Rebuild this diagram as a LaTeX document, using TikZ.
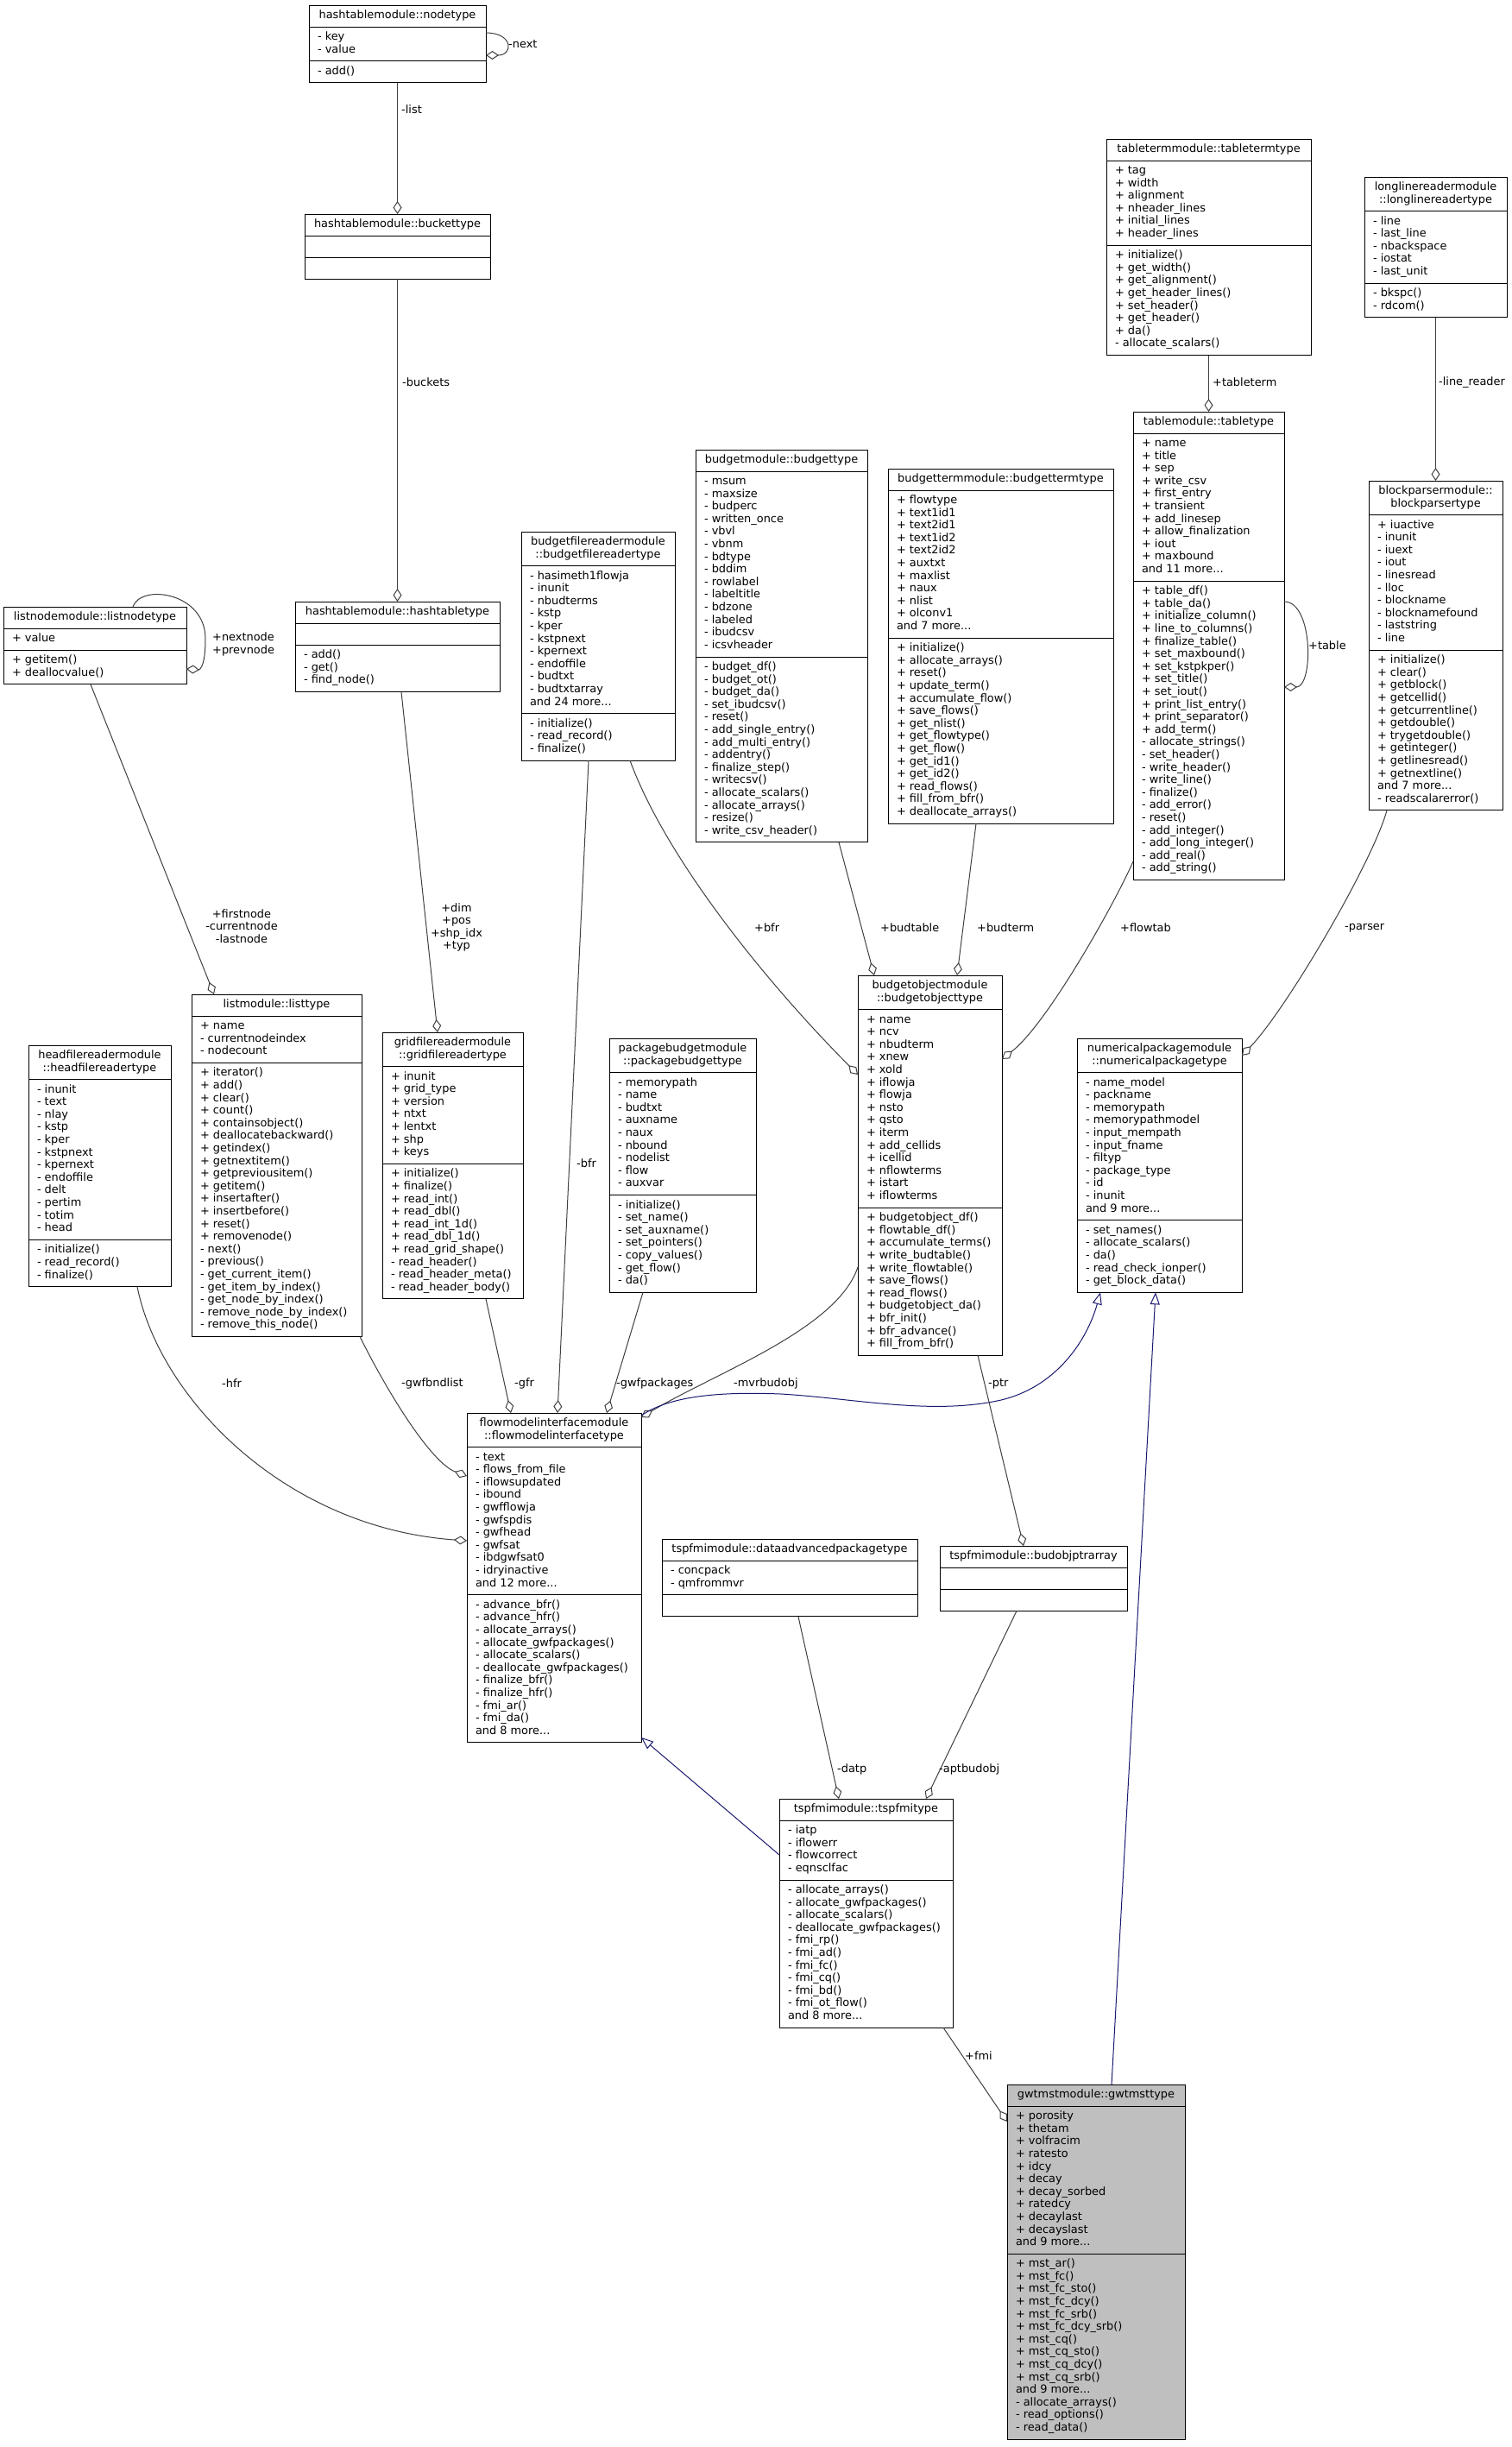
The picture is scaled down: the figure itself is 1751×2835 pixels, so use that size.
\documentclass[tikz,border=0pt]{standalone}
\usepackage{fontspec}
\setmainfont{DejaVu Sans}
\usetikzlibrary{arrows.meta,calc,fit,backgrounds}
\definecolor{edgecol}{HTML}{404040}
\definecolor{inhcol}{HTML}{191970}
\definecolor{gwtfill}{HTML}{BFBFBF}
\tikzset{
  cls text/.style={inner sep=0pt, outer sep=0pt},
  cls box/.style={draw=black, line width=1pt, inner sep=0pt, outer sep=0pt},
  cls line/.style={draw=black, line width=1pt},
  agg/.style={draw=edgecol, line width=1pt, -{Diamond[open,length=15pt,width=10pt]}},
  inh/.style={draw=inhcol, line width=1pt, -{Triangle[open,length=14pt,width=11pt]}},
  lbl/.style={inner sep=0pt, anchor=west},
}
\newcommand\umlclass[7][]{%
  \coordinate (#2-L) at (#3,#4);
  \coordinate (#2-T) at (#3+10,#4);
  \coordinate (#2-R) at (#3+#5,#4);
  \node[cls text, anchor=north] (#2-h) at (#3+#5/2,#4+5.25) {\begin{tabular}{@{}c@{}}#6\end{tabular}};
  \coordinate[yshift=-5.25pt] (#2-s1) at (#2-h.south -| #2-L);
  \node[cls text, anchor=north west, yshift=-5.25pt] (#2-a) at (#2-s1 -| #2-T) {\begin{tabular}{@{}l@{}}#7\end{tabular}};
  \coordinate[yshift=-5.25pt] (#2-s2) at (#2-a.south -| #2-L);
  \node[cls text, anchor=north west, yshift=-5.25pt] (#2-m) at (#2-s2 -| #2-T) {\begin{tabular}{@{}l@{}}\umlmeth\end{tabular}};
  \coordinate[yshift=-5.25pt] (#2-B) at (#2-m.south -| #2-R);
  \begin{pgfonlayer}{background}
    \node[cls box, #1, fit=(#2-L)(#2-B)] (#2) {};
  \end{pgfonlayer}
  \draw[cls line] (#2-s1) -- (#2-s1 -| #2-R);
  \draw[cls line] (#2-s2) -- (#2-s2 -| #2-R);
}
\newcommand\umlmeth{}
\begin{document}
\begin{tikzpicture}[x=1pt, y=-1pt, every node/.style={font=\fontsize{12.9}{14.6}\selectfont}]
\useasboundingbox (0,0) rectangle (1751,2835);
\begin{pgfonlayer}{background}
\fill[white] (0,0) rectangle (1751,2835);
\end{pgfonlayer}

% ---------- classes ----------
\renewcommand\umlmeth{- add()}
\umlclass{htnode}{358}{6}{205}{hashtablemodule::nodetype}{- key\\- value}
\renewcommand\umlmeth{\mbox{}}
\umlclass{bucket}{353}{248}{215}{hashtablemodule::buckettype}{\mbox{}}
\renewcommand\umlmeth{- add()\\- get()\\- find\_node()}
\umlclass{hashtable}{342}{697}{237}{hashtablemodule::hashtabletype}{\mbox{}}
\renewcommand\umlmeth{+ getitem()\\+ deallocvalue()}
\umlclass{listnode}{4}{703}{212}{listnodemodule::listnodetype}{+ value}
\renewcommand\umlmeth{+ initialize()\\+ get\_width()\\+ get\_alignment()\\+ get\_header\_lines()\\+ set\_header()\\+ get\_header()\\+ da()\\- allocate\_scalars()}
\umlclass{tableterm}{1282}{161}{237}{tabletermmodule::tabletermtype}{+ tag\\+ width\\+ alignment\\+ nheader\_lines\\+ initial\_lines\\+ header\_lines}
\renewcommand\umlmeth{- bkspc()\\- rdcom()}
\umlclass{longline}{1581}{205}{165}{longlinereadermodule\\::longlinereadertype}{- line\\- last\_line\\- nbackspace\\- iostat\\- last\_unit}
\renewcommand\umlmeth{- initialize()\\- read\_record()\\- finalize()}
\umlclass{bfreader}{604}{616}{178}{budgetfilereadermodule\\::budgetfilereadertype}{- hasimeth1flowja\\- inunit\\- nbudterms\\- kstp\\- kper\\- kstpnext\\- kpernext\\- endoffile\\- budtxt\\- budtxtarray\\and 24 more...}
\renewcommand\umlmeth{- budget\_df()\\- budget\_ot()\\- budget\_da()\\- set\_ibudcsv()\\- reset()\\- add\_single\_entry()\\- add\_multi\_entry()\\- addentry()\\- finalize\_step()\\- writecsv()\\- allocate\_scalars()\\- allocate\_arrays()\\- resize()\\- write\_csv\_header()}
\umlclass{budget}{806}{521}{199}{budgetmodule::budgettype}{- msum\\- maxsize\\- budperc\\- written\_once\\- vbvl\\- vbnm\\- bdtype\\- bddim\\- rowlabel\\- labeltitle\\- bdzone\\- labeled\\- ibudcsv\\- icsvheader}
\renewcommand\umlmeth{+ initialize()\\+ allocate\_arrays()\\+ reset()\\+ update\_term()\\+ accumulate\_flow()\\+ save\_flows()\\+ get\_nlist()\\+ get\_flowtype()\\+ get\_flow()\\+ get\_id1()\\+ get\_id2()\\+ read\_flows()\\+ fill\_from\_bfr()\\+ deallocate\_arrays()}
\umlclass{budterm}{1029}{543}{261}{budgettermmodule::budgettermtype}{+ flowtype\\+ text1id1\\+ text2id1\\+ text1id2\\+ text2id2\\+ auxtxt\\+ maxlist\\+ naux\\+ nlist\\+ olconv1\\and 7 more...}
\renewcommand\umlmeth{+ table\_df()\\+ table\_da()\\+ initialize\_column()\\+ line\_to\_columns()\\+ finalize\_table()\\+ set\_maxbound()\\+ set\_kstpkper()\\+ set\_title()\\+ set\_iout()\\+ print\_list\_entry()\\+ print\_separator()\\+ add\_term()\\- allocate\_strings()\\- set\_header()\\- write\_header()\\- write\_line()\\- finalize()\\- add\_error()\\- reset()\\- add\_integer()\\- add\_long\_integer()\\- add\_real()\\- add\_string()}
\umlclass{table}{1313}{477}{175}{tablemodule::tabletype}{+ name\\+ title\\+ sep\\+ write\_csv\\+ first\_entry\\+ transient\\+ add\_linesep\\+ allow\_finalization\\+ iout\\+ maxbound\\and 11 more...}
\renewcommand\umlmeth{+ initialize()\\+ clear()\\+ getblock()\\+ getcellid()\\+ getcurrentline()\\+ getdouble()\\+ trygetdouble()\\+ getinteger()\\+ getlinesread()\\+ getnextline()\\and 7 more...\\- readscalarerror()}
\umlclass{blockparser}{1586}{557}{155}{blockparsermodule::\\blockparsertype}{+ iuactive\\- inunit\\- iuext\\- iout\\- linesread\\- lloc\\- blockname\\- blocknamefound\\- laststring\\- line}
\renewcommand\umlmeth{- initialize()\\- read\_record()\\- finalize()}
\umlclass{headfile}{33}{1211}{165}{headfilereadermodule\\::headfilereadertype}{- inunit\\- text\\- nlay\\- kstp\\- kper\\- kstpnext\\- kpernext\\- endoffile\\- delt\\- pertim\\- totim\\- head}
\renewcommand\umlmeth{+ iterator()\\+ add()\\+ clear()\\+ count()\\+ containsobject()\\+ deallocatebackward()\\+ getindex()\\+ getnextitem()\\+ getpreviousitem()\\+ getitem()\\+ insertafter()\\+ insertbefore()\\+ reset()\\+ removenode()\\- next()\\- previous()\\- get\_current\_item()\\- get\_item\_by\_index()\\- get\_node\_by\_index()\\- remove\_node\_by\_index()\\- remove\_this\_node()}
\umlclass{list}{222}{1152}{197}{listmodule::listtype}{+ name\\- currentnodeindex\\- nodecount}
\renewcommand\umlmeth{+ initialize()\\+ finalize()\\+ read\_int()\\+ read\_dbl()\\+ read\_int\_1d()\\+ read\_dbl\_1d()\\+ read\_grid\_shape()\\- read\_header()\\- read\_header\_meta()\\- read\_header\_body()}
\umlclass{gridfile}{443}{1196}{163}{gridfilereadermodule\\::gridfilereadertype}{+ inunit\\+ grid\_type\\+ version\\+ ntxt\\+ lentxt\\+ shp\\+ keys}
\renewcommand\umlmeth{- initialize()\\- set\_name()\\- set\_auxname()\\- set\_pointers()\\- copy\_values()\\- get\_flow()\\- da()}
\umlclass{pkgbudget}{706}{1203}{170}{packagebudgetmodule\\::packagebudgettype}{- memorypath\\- name\\- budtxt\\- auxname\\- naux\\- nbound\\- nodelist\\- flow\\- auxvar}
\renewcommand\umlmeth{+ budgetobject\_df()\\+ flowtable\_df()\\+ accumulate\_terms()\\+ write\_budtable()\\+ write\_flowtable()\\+ save\_flows()\\+ read\_flows()\\+ budgetobject\_da()\\+ bfr\_init()\\+ bfr\_advance()\\+ fill\_from\_bfr()}
\umlclass{budobj}{994}{1130}{167}{budgetobjectmodule\\::budgetobjecttype}{+ name\\+ ncv\\+ nbudterm\\+ xnew\\+ xold\\+ iflowja\\+ flowja\\+ nsto\\+ qsto\\+ iterm\\+ add\_cellids\\+ icellid\\+ nflowterms\\+ istart\\+ iflowterms}
\renewcommand\umlmeth{- set\_names()\\- allocate\_scalars()\\- da()\\- read\_check\_ionper()\\- get\_block\_data()}
\umlclass{numpkg}{1248}{1203}{191}{numericalpackagemodule\\::numericalpackagetype}{- name\_model\\- packname\\- memorypath\\- memorypathmodel\\- input\_mempath\\- input\_fname\\- filtyp\\- package\_type\\- id\\- inunit\\and 9 more...}
\renewcommand\umlmeth{- advance\_bfr()\\- advance\_hfr()\\- allocate\_arrays()\\- allocate\_gwfpackages()\\- allocate\_scalars()\\- deallocate\_gwfpackages()\\- finalize\_bfr()\\- finalize\_hfr()\\- fmi\_ar()\\- fmi\_da()\\and 8 more...}
\umlclass{fmi}{541}{1637}{202}{flowmodelinterfacemodule\\::flowmodelinterfacetype}{- text\\- flows\_from\_file\\- iflowsupdated\\- ibound\\- gwfflowja\\- gwfspdis\\- gwfhead\\- gwfsat\\- ibdgwfsat0\\- idryinactive\\and 12 more...}
\renewcommand\umlmeth{\mbox{}}
\umlclass{dataadv}{767}{1783}{296}{tspfmimodule::dataadvancedpackagetype}{- concpack\\- qmfrommvr}
\renewcommand\umlmeth{\mbox{}}
\umlclass{budobjptr}{1089}{1791}{217}{tspfmimodule::budobjptrarray}{\mbox{}}
\renewcommand\umlmeth{- allocate\_arrays()\\- allocate\_gwfpackages()\\- allocate\_scalars()\\- deallocate\_gwfpackages()\\- fmi\_rp()\\- fmi\_ad()\\- fmi\_fc()\\- fmi\_cq()\\- fmi\_bd()\\- fmi\_ot\_flow()\\and 8 more...}
\umlclass{tspfmi}{903}{2084}{201}{tspfmimodule::tspfmitype}{- iatp\\- iflowerr\\- flowcorrect\\- eqnsclfac}
\renewcommand\umlmeth{+ mst\_ar()\\+ mst\_fc()\\+ mst\_fc\_sto()\\+ mst\_fc\_dcy()\\+ mst\_fc\_srb()\\+ mst\_fc\_dcy\_srb()\\+ mst\_cq()\\+ mst\_cq\_sto()\\+ mst\_cq\_dcy()\\+ mst\_cq\_srb()\\and 9 more...\\- allocate\_arrays()\\- read\_options()\\- read\_data()}
\umlclass[fill=gwtfill]{gwtmst}{1167}{2415}{206}{gwtmstmodule::gwtmsttype}{+ porosity\\+ thetam\\+ volfracim\\+ ratesto\\+ idcy\\+ decay\\+ decay\_sorbed\\+ ratedcy\\+ decaylast\\+ decayslast\\and 9 more...}

% ---------- connectors ----------
\draw[agg] (htnode) -- (bucket);
\draw[agg] ($(htnode.north east)+(0,32)$) .. controls +(32,0) and +(32,0) .. ($(htnode.north east)+(0,58)$);
\draw[agg] (bucket) -- (hashtable);
\draw[agg] ($(listnode.north west)+(150,0)$) .. controls (163,676) and (238,686) .. (238,740) .. controls (238,776) and (230,776) .. ($(listnode.north east)+(0,72)$);
\draw[agg] ($(listnode.south west)+(101,0)$) -- ($(list.north west)+(26,0)$);
\draw[agg] ($(hashtable.south west)+(123,0)$) -- ($(gridfile.north west)+(64,0)$);
\draw[agg] ($(bfreader.south west)+(78,0)$) -- ($(fmi.north west)+(105,0)$);
\draw[agg] ($(bfreader.south west)+(126,0)$) .. controls (770,990) and (880,1130) .. ($(budobj.north west)+(0,115)$);
\draw[agg] ($(budget.south west)+(166,0)$) -- ($(budobj.north west)+(19,0)$);
\draw[agg] ($(budterm.south west)+(102,0)$) -- ($(budobj.north west)+(115,0)$);
\draw[agg] (tableterm) -- (table);
\draw[agg] (longline) -- (blockparser);
\draw[agg] ($(table.north east)+(0,220)$) .. controls +(34,0) and +(34,0) .. ($(table.north east)+(0,319)$);
\draw[agg] ($(table.north west)+(0,521)$) .. controls (1295,1040) and (1215,1185) .. ($(budobj.north east)+(0,97)$);
\draw[agg] ($(blockparser.south west)+(21,0)$) .. controls (1590,1000) and (1490,1170) .. ($(numpkg.north east)+(0,20)$);
\draw[agg] ($(headfile.south west)+(126,0)$) .. controls (185,1620) and (330,1770) .. ($(fmi.north west)+(0,148)$);
\draw[agg] ($(list.south east)+(-2,0)$) .. controls (450,1615) and (500,1695) .. ($(fmi.north west)+(0,73)$);
\draw[agg] ($(gridfile.south west)+(120,0)$) -- ($(fmi.north west)+(51,0)$);
\draw[agg] ($(pkgbudget.south west)+(39,0)$) -- ($(fmi.north west)+(162,0)$);
\draw[agg] ($(budobj.north west)+(0,338)$) .. controls (970,1540) and (830,1590) .. ($(fmi.north east)+(0,5)$);
\draw[inh] ($(fmi.north east)+(0,3)$) .. controls (775,1618) and (830,1612) .. (905,1615) .. controls (990,1620) and (1080,1640) .. (1160,1622) .. controls (1230,1605) and (1262,1545) .. ($(numpkg.south west)+(27,0)$);
\draw[agg] ($(budobj.south west)+(139,0)$) -- ($(budobjptr.north west)+(97,0)$);
\draw[agg] ($(dataadv.south west)+(158,0)$) -- ($(tspfmi.north west)+(69,0)$);
\draw[agg] ($(budobjptr.south west)+(89,0)$) -- ($(tspfmi.north west)+(170,0)$);
\draw[inh] ($(tspfmi.north west)+(0,65)$) -- ($(fmi.south east)+(0,-6)$);
\draw[agg] ($(tspfmi.south west)+(190,0)$) -- ($(gwtmst.north west)+(0,43)$);
\draw[inh] ($(gwtmst.north west)+(121,0)$) -- ($(numpkg.south west)+(91,0)$);

% ---------- labels ----------
\node[lbl] (l-list) at (465,127) {-list};
\node[lbl] (l-next) at (589,51) {-next};
\node[lbl] (l-buckets) at (466,443) {-buckets};
\node[lbl] (l-nextnode) at (246,747) {\begin{tabular}{@{}l@{}}+nextnode\\+prevnode\end{tabular}};
\node[inner sep=0pt] (l-firstnode) at (280,1075) {\begin{tabular}{@{}c@{}}+firstnode\\-currentnode\\-lastnode\end{tabular}};
\node[inner sep=0pt] (l-dim) at (529,1075) {\begin{tabular}{@{}c@{}}+dim\\+pos\\+shp\_idx\\+typ\end{tabular}};
\node[lbl] (l-bfr2) at (668,1348) {-bfr};
\node[lbl] (l-bfr) at (874,1075) {+bfr};
\node[lbl] (l-budtable) at (1020,1075) {+budtable};
\node[lbl] (l-budterm) at (1132,1075) {+budterm};
\node[lbl] (l-flowtab) at (1298,1075) {+flowtab};
\node[lbl] (l-parser) at (1558,1075) {-parser};
\node[lbl] (l-tableterm) at (1405,443) {+tableterm};
\node[lbl] (l-linereader) at (1667,443) {-line\_reader};
\node[lbl] (l-table) at (1516,748) {+table};
\node[lbl] (l-hfr) at (257,1603) {-hfr};
\node[lbl] (l-gwfbndlist) at (465,1603) {-gwfbndlist};
\node[lbl] (l-gfr) at (596,1603) {-gfr};
\node[lbl] (l-gwfpackages) at (714,1603) {-gwfpackages};
\node[lbl] (l-mvrbudobj) at (850,1603) {-mvrbudobj};
\node[lbl] (l-ptr) at (1145,1603) {-ptr};
\node[lbl] (l-datp) at (970,2050) {-datp};
\node[lbl] (l-aptbudobj) at (1088,2050) {-aptbudobj};
\node[lbl] (l-fmi) at (1118,2382) {+fmi};
\end{tikzpicture}
\end{document}
